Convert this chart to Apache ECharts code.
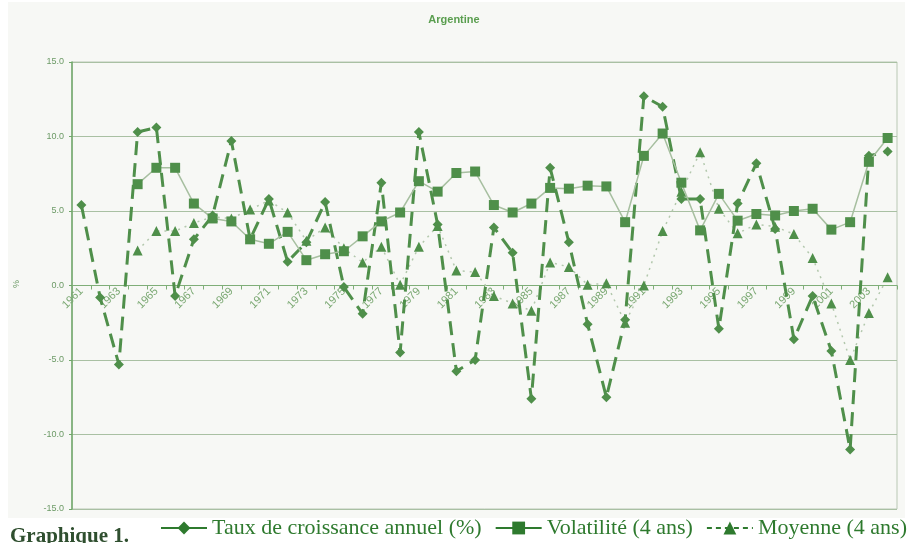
<!DOCTYPE html>
<html>
<head>
<meta charset="utf-8">
<script src="https://cdn.jsdelivr.net/npm/echarts@6/dist/echarts.min.js"></script>
<style>
  html, body { margin: 0; padding: 0; background: #ffffff; }
  #chart { width: 908px; height: 543px; }
</style>
</head>
<body>
<div id="chart"></div>
<script>
// années 1961 - 2004
var annees = [];
for (var a = 1961; a <= 2004; a++) annees.push(String(a));

// taux de croissance annuel (%)
var taux = [5.4, -0.8, -5.3, 10.3, 10.6, -0.7, 3.1, 4.7, 9.7, 3.1,
            5.8, 1.6, 2.9, 5.6, -0.1, -1.9, 6.9, -4.5, 10.3, 4.1,
            -5.75, -5.0, 3.9, 2.2, -7.6, 7.9, 2.9, -2.6, -7.5, -2.3,
            12.7, 12.0, 5.8, 5.8, -2.9, 5.5, 8.2, 3.8, -3.6, -0.7,
            -4.4, -11.0, 8.7, 9.0];
// volatilité (4 ans)
var volatilite = [null, null, null, 6.8, 7.9, 7.9, 5.5, 4.5, 4.3, 3.1,
                  2.8, 3.6, 1.7, 2.1, 2.3, 3.3, 4.3, 4.9, 7.0, 6.3,
                  7.55, 7.65, 5.4, 4.9, 5.5, 6.55, 6.5, 6.7, 6.65, 4.25,
                  8.7, 10.2, 6.9, 3.7, 6.15, 4.35, 4.8, 4.7, 5.0, 5.15,
                  3.75, 4.25, 8.3, 9.9];
// moyenne (4 ans)
var moyenne = [null, null, null, 2.35, 3.65, 3.65, 4.2, 4.6, 4.5, 5.1,
               5.7, 4.9, 3.0, 3.9, 2.5, 1.55, 2.6, 0.05, 2.6, 4.0,
               1.0, 0.9, -0.7, -1.2, -1.7, 1.55, 1.25, 0.05, 0.15, -2.5,
               0.0, 3.65, 6.3, 8.95, 5.15, 3.5, 4.1, 3.95, 3.45, 1.85,
               -1.2, -5.0, -1.85, 0.55];

var vert = '#4f8f4a';
var vertLegende = '#2e7a2e';
var myChart = echarts.init(document.getElementById('chart'));
var options = {
    backgroundColor: '#ffffff',
    animation: false,
    title: {
        text: 'Argentine',
        left: 'center',
        top: 9,
        textStyle: { color: '#5a9e4f', fontSize: 11, fontWeight: 'bold', fontFamily: 'Liberation Sans' }
    },
    graphic: [
        { type: 'rect', left: 8, top: 2, z: -10,
          shape: { width: 897, height: 516 },
          style: { fill: '#f7f8f5' } },
        { type: 'text', left: 10, top: 526,
          style: { text: 'Graphique 1.', font: 'bold 21px "Liberation Serif"', fill: '#2f4f2f' } },
        { type: 'text', left: 12, top: 280, rotation: Math.PI / 2,
          style: { text: '%', font: '9px "Liberation Sans"', fill: '#6c9a66' } }
    ],
    grid: { left: 72, right: 11, top: 62, bottom: 34, show: true, borderColor: '#b9c8b4', borderWidth: 1 },
    legend: {
        bottom: 4,
        left: 160,
        width: 748,
        padding: 0,
        itemWidth: 46,
        itemHeight: 16,
        itemGap: 13,
        textStyle: { color: vertLegende, fontSize: 22, fontFamily: 'Liberation Serif' },
        data: [
            { name: 'Taux de croissance annuel (%)', itemStyle: { color: vertLegende },
              lineStyle: { color: vertLegende, type: 'solid', width: 2 } },
            { name: 'Volatilité (4 ans)', itemStyle: { color: vertLegende },
              lineStyle: { color: vertLegende, type: 'solid', width: 2 } },
            { name: 'Moyenne (4 ans)', itemStyle: { color: vertLegende },
              lineStyle: { color: vertLegende, type: [5, 4], width: 2 } }
        ]
    },
    xAxis: {
        type: 'category',
        data: annees,
        boundaryGap: true,
        // axe placé sur la ligne 0
        offset: -223.5,
        axisLine: { onZero: false, lineStyle: { color: '#7fae78', width: 1 } },
        axisTick: { show: true, length: 4, interval: 0, lineStyle: { color: '#7fae78' } },
        axisLabel: { interval: 1, rotate: 45, color: '#7aa872', fontSize: 11, fontFamily: 'Liberation Sans', margin: 4 },
        splitLine: { show: false }
    },
    yAxis: {
        type: 'value',
        min: -15, max: 15, interval: 5,
        axisLine: { show: true, lineStyle: { color: '#6fa768', width: 1.5 } },
        axisTick: { show: true, length: 3, lineStyle: { color: '#6fa768' } },
        axisLabel: { color: '#6c9a66', fontSize: 9, fontFamily: 'Liberation Sans',
                     formatter: function (v) { return v.toFixed(1); } },
        splitLine: { lineStyle: { color: '#a9c0a3', width: 1.2 } }
    },
    series: [
        {
            name: 'Taux de croissance annuel (%)',
            type: 'line',
            data: taux,
            symbol: 'diamond',
            symbolSize: 10,
            itemStyle: { color: vert },
            lineStyle: { color: vert, width: 3, type: [14, 8] },
            z: 3
        },
        {
            name: 'Volatilité (4 ans)',
            type: 'line',
            data: volatilite,
            symbol: 'rect',
            symbolSize: 10,
            itemStyle: { color: vert },
            lineStyle: { color: '#a7bfa0', width: 1.5 },
            z: 4
        },
        {
            name: 'Moyenne (4 ans)',
            type: 'line',
            data: moyenne,
            symbol: 'triangle',
            symbolSize: 10,
            itemStyle: { color: vert },
            lineStyle: { color: '#b3c8ad', width: 1.5, type: [2, 5] },
            z: 2
        }
    ]
};
myChart.setOption(options);
</script>
</body>
</html>
